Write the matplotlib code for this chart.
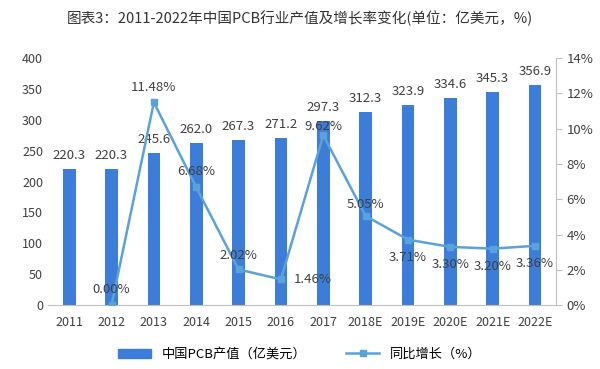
import matplotlib.pyplot as plt
import numpy as np

plt.rcParams['font.family'] = ['Noto Sans CJK SC', 'DejaVu Sans']

years = ['2011', '2012', '2013', '2014', '2015', '2016', '2017',
         '2018E', '2019E', '2020E', '2021E', '2022E']
output = [220.3, 220.3, 245.6, 262.0, 267.3, 271.2, 297.3,
          312.3, 323.9, 334.6, 345.3, 356.9]
growth = [None, 0.00, 11.48, 6.68, 2.02, 1.46, 9.62,
          5.05, 3.71, 3.30, 3.20, 3.36]
# label offsets for growth labels (points, label centre)
offs = [None, (0, 11), (0, 11), (0, 11), (0, 10), (23, 0), (0, 6),
        (0, 8), (0, -13), (0, -13), (0, -13), (0, -13)]

bar_c = '#3b7dd8'
line_c = '#5aa2dc'
txt_c = '#404040'

fig = plt.figure(figsize=(6, 3.69), dpi=100)
ax = fig.add_axes([0.08, 0.173, 0.847, 0.67])
x = np.arange(len(years))
ax.bar(x, output, width=0.3, color=bar_c, zorder=2)
for xi, v in zip(x, output):
    ax.annotate(f'{v:.1f}', (xi, v), xytext=(0, 5), textcoords='offset points',
                ha='center', va='bottom', fontsize=9.5, color=txt_c)
ax.set_ylim(0, 400)
ax.set_yticks(range(0, 401, 50))
ax.set_xlim(-0.5, len(years) - 0.5)
ax.set_xticks(x)
ax.set_xticklabels(years)
ax.tick_params(axis='both', length=0, labelsize=9, colors=txt_c)
ax.tick_params(axis='x', pad=8)
for s in ['top', 'right', 'left']:
    ax.spines[s].set_visible(False)
ax.spines['bottom'].set_color('#bfbfbf')

ax2 = ax.twinx()
gx = [xi for xi, g in zip(x, growth) if g is not None]
gy = [g for g in growth if g is not None]
ax2.plot(gx, gy, color=line_c, lw=1.8, marker='s', ms=5, zorder=3)
for xi, g, o in zip(x, growth, offs):
    if g is None:
        continue
    ax2.annotate(f'{g:.2f}%', (xi, g), xytext=o, textcoords='offset points',
                 ha='center', va='center', fontsize=9.5, color=txt_c)
ax2.set_ylim(0, 14)
ax2.set_yticks(range(0, 15, 2))
ax2.set_yticklabels([f'{t}%' for t in range(0, 15, 2)])
ax2.tick_params(axis='y', length=4, labelsize=9.5, colors=txt_c, color='#bfbfbf')
for s in ['top', 'left', 'bottom']:
    ax2.spines[s].set_visible(False)
ax2.spines['right'].set_color('#bfbfbf')

fig.text(0.5, 0.95, '图表3：2011-2022年中国PCB行业产值及增长率变化(单位：亿美元，%)',
         ha='center', va='center', fontsize=10.5, color='#333333')

h1 = plt.Rectangle((0, 0), 1, 1, color=bar_c)
h2, = plt.plot([], [], color=line_c, lw=1.8, marker='s', ms=5)
fig.legend([h1, h2], ['中国PCB产值（亿美元）', '同比增长（%）'],
           loc='center', bbox_to_anchor=(0.5, 0.04), ncol=2, frameon=False,
           fontsize=9.5, handlelength=2.5, columnspacing=3)

fig.savefig('out.png', dpi=100)
